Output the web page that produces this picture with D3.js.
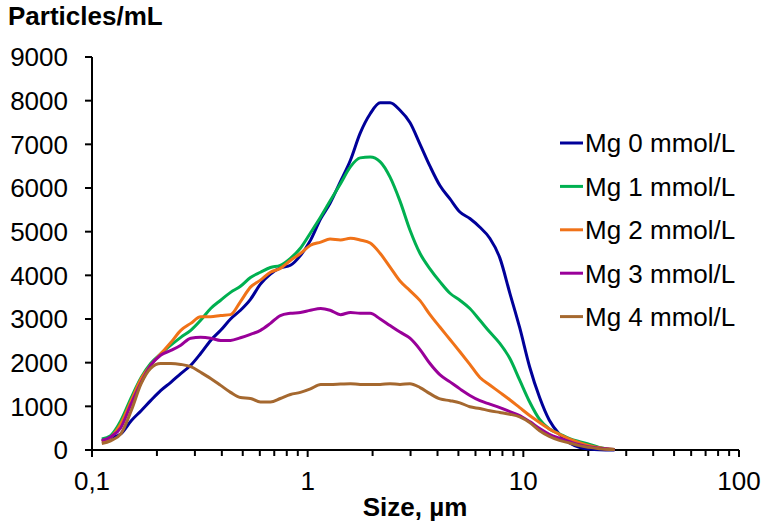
<!DOCTYPE html>
<html lang="en">
<head>
  <meta charset="UTF-8">
  <title>Particles/mL by size</title>
  <script src="https://d3js.org/d3.v7.min.js"></script>
  <style>
    body { margin: 0; background: #fff; }
    svg text { font-family: "Liberation Sans", Arial, sans-serif; fill: #000; }
  </style>
</head>
<body>
  <div id="chart"></div>
  <script>
    // particle size, µm (shared x for every series)
    const sizes = [0.111, 0.122, 0.136, 0.152, 0.169, 0.187, 0.208, 0.232, 0.258, 0.287,
      0.319, 0.355, 0.395, 0.439, 0.488, 0.543, 0.604, 0.672, 0.747, 0.832,
      0.925, 1.03, 1.15, 1.27, 1.42, 1.58, 1.75, 1.95, 2.17, 2.41,
      2.68, 2.98, 3.32, 3.69, 4.11, 4.57, 5.08, 5.65, 6.29, 6.99,
      7.78, 8.65, 9.62, 10.7, 11.9, 13.2, 14.7, 16.4, 18.2, 20.3,
      22.5, 26.5];

    const mg0 = [200, 280, 370, 670, 900, 1130, 1360, 1550, 1750, 1940,
      2210, 2510, 2740, 3000, 3200, 3450, 3800, 4030, 4170, 4230,
      4450, 4800, 5300, 5650, 6150, 6640, 7250, 7700, 7950, 7950,
      7780, 7500, 7000, 6500, 6050, 5750, 5450, 5300, 5100, 4850,
      4400, 3600, 2800, 1900, 1200, 680, 360, 160, 60, 20,
      5, 0];
    const mg1 = [250, 330, 670, 1200, 1660, 1980, 2200, 2400, 2580, 2740,
      2970, 3240, 3430, 3610, 3750, 3950, 4070, 4180, 4230, 4390,
      4620, 4970, 5340, 5700, 6100, 6490, 6690, 6710, 6600, 6250,
      5700, 5040, 4500, 4150, 3850, 3590, 3430, 3240, 2970, 2700,
      2440, 2100, 1600, 1100, 700, 480, 370, 260, 190, 130,
      60, 10];
    const mg2 = [190, 290, 600, 1130, 1630, 1940, 2200, 2460, 2740, 2900,
      3050, 3050, 3080, 3100, 3400, 3730, 3890, 4070, 4160, 4340,
      4500, 4690, 4760, 4830, 4810, 4850, 4810, 4740, 4500, 4190,
      3870, 3650, 3420, 3100, 2810, 2530, 2250, 1960, 1660, 1490,
      1320, 1150, 970, 790, 630, 480, 360, 250, 170, 100,
      50, 10];
    const mg3 = [220, 300, 510, 1060, 1550, 1940, 2170, 2280, 2400, 2560,
      2580, 2560, 2510, 2510, 2570, 2650, 2740, 2900, 3080, 3130,
      3150, 3200, 3240, 3200, 3100, 3150, 3130, 3130, 3000, 2850,
      2700, 2560, 2300, 1980, 1720, 1560, 1400, 1250, 1130, 1050,
      970, 880, 790, 650, 490, 360, 270, 190, 120, 70,
      40, 10];
    const mg4 = [150, 210, 370, 900, 1520, 1870, 1980, 1980, 1960, 1910,
      1780, 1640, 1480, 1320, 1200, 1180, 1100, 1100, 1180, 1270,
      1320, 1400, 1500, 1500, 1510, 1520, 1500, 1500, 1500, 1520,
      1500, 1520, 1430, 1290, 1170, 1130, 1080, 990, 950, 900,
      860, 820, 760, 630, 440, 310, 220, 160, 100, 60,
      30, 10];

    const seriesNames = ['Mg 0 mmol/L', 'Mg 1 mmol/L', 'Mg 2 mmol/L', 'Mg 3 mmol/L', 'Mg 4 mmol/L'];
    const seriesColors = ['#000099', '#00B050', '#F07218', '#990099', '#A5682F'];
    const xTickValues = [0.1, 1, 10, 100];
    const xTickLabels = ['0,1', '1', '10', '100'];
    const yTickValues = [0, 1000, 2000, 3000, 4000, 5000, 6000, 7000, 8000, 9000];

    const allSeries = [mg0, mg1, mg2, mg3, mg4].map((vals, i) => ({
      name: seriesNames[i],
      color: seriesColors[i],
      points: vals.map((v, j) => ({ x: sizes[j], y: v }))
    }));

    const width = 763, height = 526;
    const svg = d3.select('#chart').append('svg')
      .attr('width', width)
      .attr('height', height);

    const x = d3.scaleLog().domain([0.1, 100]).range([92, 739]);
    const y = d3.scaleLinear().domain([0, 9000]).range([450, 57]);

    // minor ticks for the log axis
    const minorTicks = [];
    [0.1, 1, 10].forEach(d => { for (let k = 2; k <= 9; k++) minorTicks.push(d * k); });

    const xAxis = svg.append('g').attr('transform', 'translate(0,450)');
    xAxis.append('line')
      .attr('x1', x(0.1)).attr('x2', x(100))
      .attr('stroke', '#000').attr('stroke-width', 2);
    xAxis.selectAll('.minor').data(minorTicks).enter().append('line')
      .attr('x1', d => x(d)).attr('x2', d => x(d))
      .attr('y1', 0).attr('y2', 6)
      .attr('stroke', '#000').attr('stroke-width', 2);
    xAxis.selectAll('.major').data(xTickValues).enter().append('line')
      .attr('x1', d => x(d)).attr('x2', d => x(d))
      .attr('y1', 0).attr('y2', 7)
      .attr('stroke', '#000').attr('stroke-width', 2);
    xAxis.selectAll('.xlabel').data(xTickValues).enter().append('text')
      .attr('x', d => x(d))
      .attr('y', 40)
      .attr('text-anchor', 'middle')
      .style('font-size', '26px')
      .text((d, i) => xTickLabels[i]);

    const yAxis = svg.append('g').attr('transform', 'translate(92,0)');
    yAxis.append('line')
      .attr('y1', y(0)).attr('y2', y(9000))
      .attr('stroke', '#000').attr('stroke-width', 2);
    yAxis.selectAll('.ytick').data(yTickValues).enter().append('line')
      .attr('x1', -7).attr('x2', 0)
      .attr('y1', d => y(d)).attr('y2', d => y(d))
      .attr('stroke', '#000').attr('stroke-width', 2);
    yAxis.selectAll('.ylabel').data(yTickValues).enter().append('text')
      .attr('x', -24)
      .attr('y', d => y(d))
      .attr('dy', '0.36em')
      .attr('text-anchor', 'end')
      .style('font-size', '26px')
      .text(d => d);

    const line = d3.line()
      .x(d => x(d.x))
      .y(d => y(d.y))
      .curve(d3.curveMonotoneX);

    // brown ends up on top, as in the original
    svg.selectAll('.series').data(allSeries).enter().append('path')
      .attr('d', d => line(d.points))
      .attr('fill', 'none')
      .attr('stroke', d => d.color)
      .attr('stroke-width', 3)
      .attr('stroke-linejoin', 'round');

    // legend
    const legend = svg.append('g');
    allSeries.forEach((s, i) => {
      const ly = 143 + i * 43.4;
      legend.append('line')
        .attr('x1', 560).attr('x2', 583)
        .attr('y1', ly).attr('y2', ly)
        .attr('stroke', s.color).attr('stroke-width', 3);
      legend.append('text')
        .attr('x', 585).attr('y', ly)
        .attr('dy', '0.36em')
        .style('font-size', '26px')
        .text(s.name);
    });

    svg.append('text')
      .attr('x', 8).attr('y', 25)
      .style('font-size', '26px')
      .style('font-weight', 'bold')
      .text('Particles/mL');

    svg.append('text')
      .attr('x', 415).attr('y', 516)
      .attr('text-anchor', 'middle')
      .style('font-size', '26px')
      .style('font-weight', 'bold')
      .text('Size, µm');
  </script>
</body>
</html>
